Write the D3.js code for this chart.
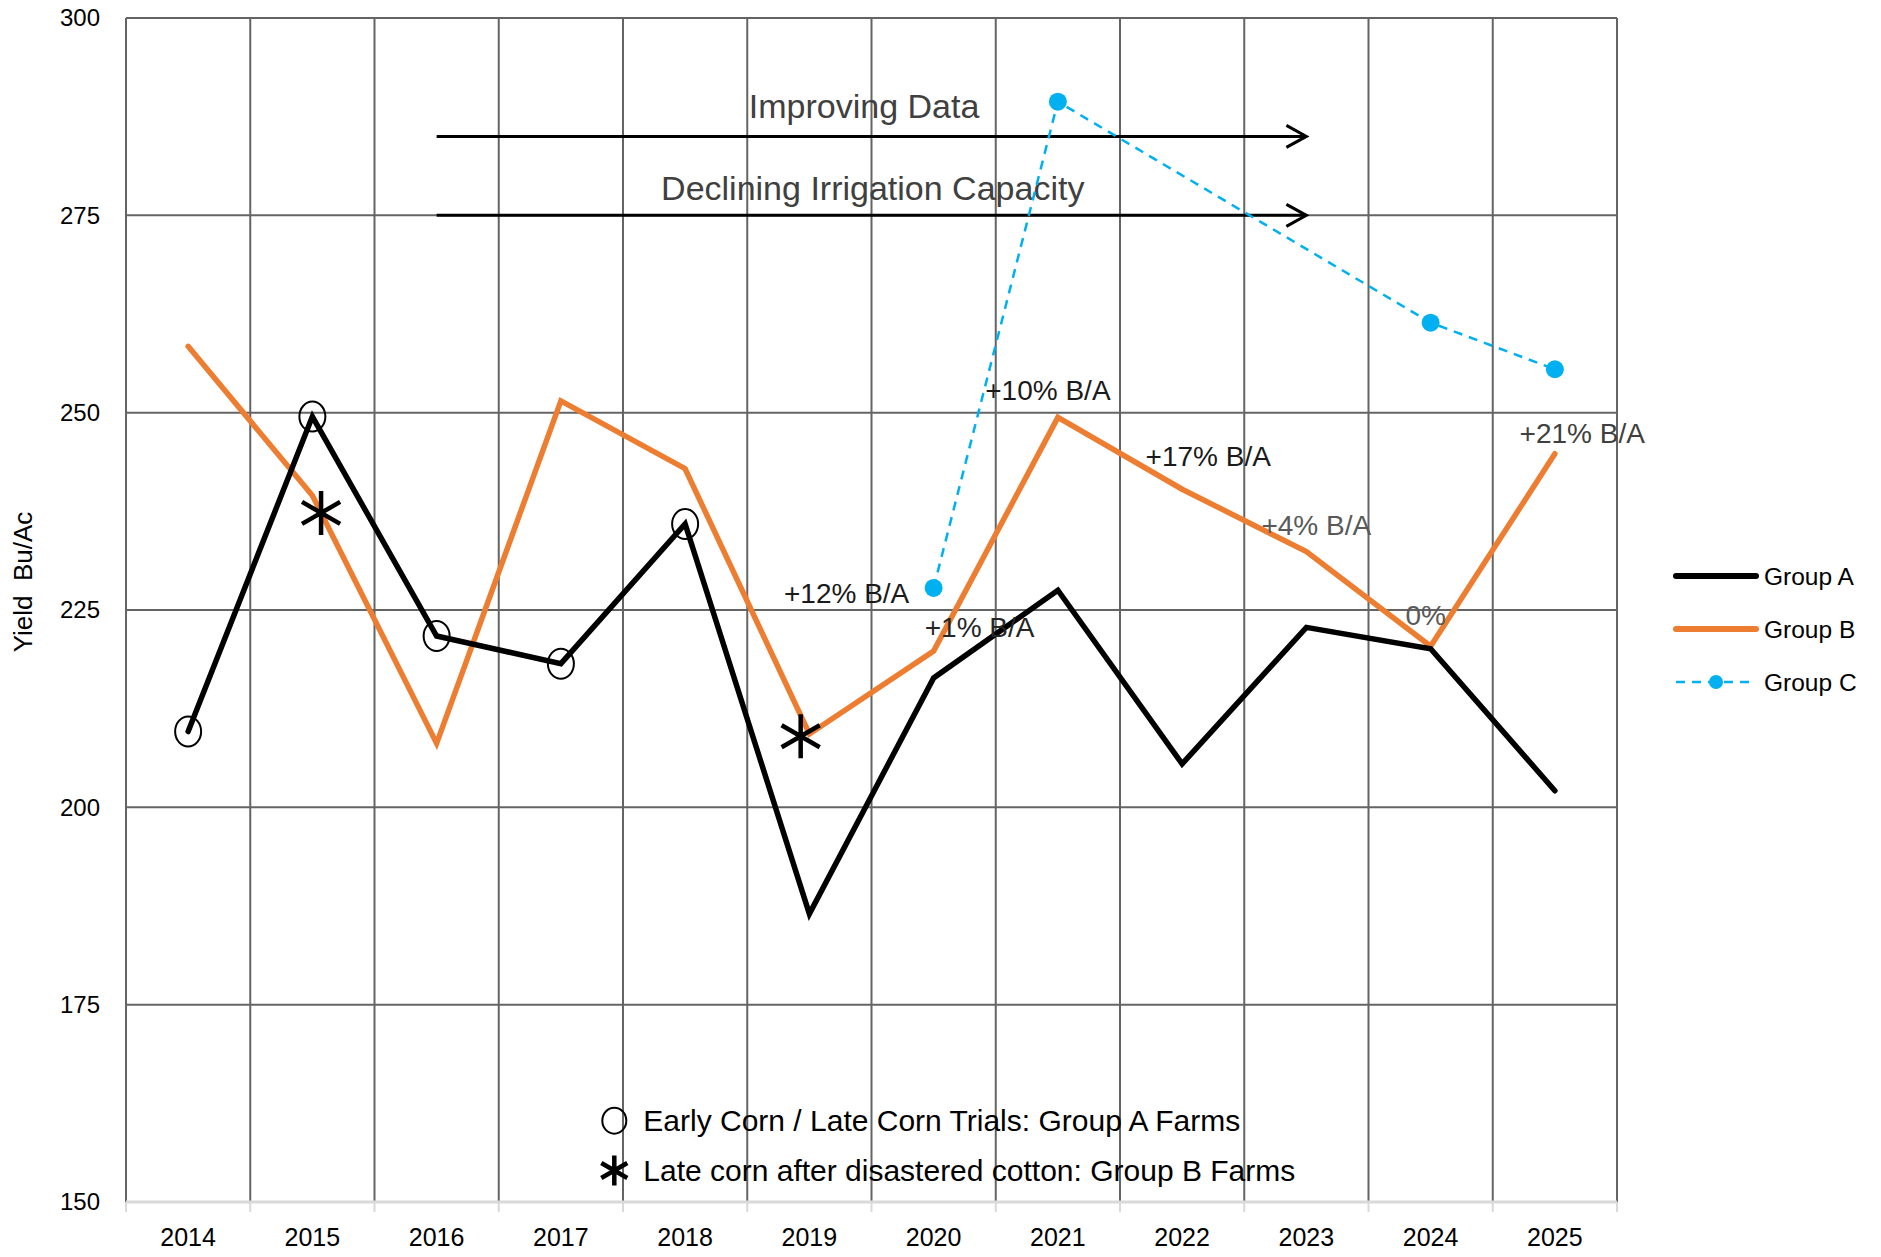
<!DOCTYPE html>
<html>
<head>
  <script src="https://d3js.org/d3.v7.min.js"></script>
  <title>Yield by Group</title>
  <style>
    body { margin: 0; background: #fff; }
    .tick-label { font-family: "Liberation Sans", Arial, sans-serif; font-size: 24px; fill: #000; }
    .note { font-family: "Liberation Sans Narrow", "Liberation Sans", sans-serif; }
    .legend-text { font-family: "Liberation Sans", Arial, sans-serif; font-size: 24px; fill: #000; }
  </style>
</head>
<body>
<div id="chart-container"></div>
<script>
var years = [2014, 2015, 2016, 2017, 2018, 2019, 2020, 2021, 2022, 2023, 2024, 2025];
var groupA = [209.6, 249.5, 221.7, 218.2, 235.9, 186.5, 216.4, 227.5, 205.5, 222.8, 220.1, 202.1];
var groupB = [258.4, 239.5, 208.1, 251.5, 242.9, 209.3, 219.8, 249.4, 240.3, 232.4, 220.4, 244.8];
var groupC = [null, null, null, null, null, null, 227.8, 289.4, null, null, 261.4, 255.5];
var yTicks = [150, 175, 200, 225, 250, 275, 300];

// circles on group A = early/late corn trials, asterisks on group B = late corn after cotton
var circleYears = [2014, 2015, 2016, 2017, 2018];
var starMarks = [{ year: 2015.07, value: 237.3 }, { year: 2018.93, value: 209.0 }];

var changeLabels = [
  { text: "+12% B/A", year: 2019.30, value: 227.1, color: "#1a1a1a" },
  { text: "+1% B/A", year: 2020.37, value: 222.8, color: "#262626" },
  { text: "+10% B/A", year: 2020.92, value: 252.9, color: "#1a1a1a" },
  { text: "+17% B/A", year: 2022.21, value: 244.5, color: "#1a1a1a" },
  { text: "+4% B/A", year: 2023.08, value: 235.7, color: "#595959" },
  { text: "0%", year: 2023.96, value: 224.3, color: "#595959" },
  { text: "+21% B/A", year: 2025.22, value: 247.4, color: "#404040" }
];
var trendArrows = [
  { text: "Improving Data", from: 2016, to: 2023, value: 285, labelYear: 2019.44, labelValue: 288.9 },
  { text: "Declining Irrigation Capacity", from: 2016, to: 2023, value: 275, labelYear: 2019.51, labelValue: 278.5 }
];
var notes = [
  { symbol: "circle", text: "Early Corn / Late Corn Trials: Group A Farms", year: 2017.43, value: 160.3 },
  { symbol: "star", text: "Late corn after disastered cotton: Group B Farms", year: 2017.43, value: 154.0 }
];
var legendItems = ["Group A", "Group B", "Group C"];

var width = 1881, height = 1257;
var margin = { top: 18, right: 264, bottom: 55, left: 126 };

var colorA = "#000000", colorB = "#ED7D31", colorC = "#00B0F0";

var svg = d3.select("#chart-container").append("svg")
  .attr("width", width).attr("height", height);

var x = d3.scaleBand().domain(years).range([margin.left, width - margin.right]);
var bw = x.bandwidth();
var xc = function(yr) { return x(yr) + bw / 2; };
var xf = d3.scaleLinear().domain([2014, 2025]).range([xc(2014), xc(2025)]);
var y = d3.scaleLinear().domain([150, 300]).range([height - margin.bottom, margin.top]);

var plotLeft = margin.left, plotRight = width - margin.right;
var plotTop = y(300), plotBottom = y(150);

// grid
var edges = years.map(function(d) { return x(d); }).concat([plotRight]);
svg.append("g").selectAll("line").data(edges).enter().append("line")
  .attr("x1", function(d) { return d; }).attr("x2", function(d) { return d; })
  .attr("y1", plotTop).attr("y2", plotBottom)
  .attr("stroke", "#646464").attr("stroke-width", 2);
svg.append("g").selectAll("line").data(yTicks.filter(function(d) { return d > 150; })).enter().append("line")
  .attr("x1", plotLeft).attr("x2", plotRight)
  .attr("y1", function(d) { return y(d); }).attr("y2", function(d) { return y(d); })
  .attr("stroke", "#646464").attr("stroke-width", 2);

// x axis
var xAxis = svg.append("g").attr("transform", "translate(0," + plotBottom + ")");
xAxis.append("line").attr("x1", plotLeft).attr("x2", plotRight)
  .attr("stroke", "#d9d9d9").attr("stroke-width", 3);
xAxis.selectAll(".tk").data(edges).enter().append("line")
  .attr("x1", function(d) { return d; }).attr("x2", function(d) { return d; })
  .attr("y1", 0).attr("y2", 10).attr("stroke", "#d9d9d9").attr("stroke-width", 2);
xAxis.selectAll("text").data(years).enter().append("text")
  .attr("class", "tick-label")
  .attr("x", function(d) { return xc(d); }).attr("y", 44)
  .attr("text-anchor", "middle").style("font-size", "25px")
  .text(function(d) { return d; });

// y axis labels
svg.append("g").selectAll("text").data(yTicks).enter().append("text")
  .attr("class", "tick-label")
  .attr("x", 100).attr("y", function(d) { return y(d); })
  .attr("dy", "0.35em").attr("text-anchor", "end")
  .text(function(d) { return d; });

svg.append("text")
  .attr("transform", "translate(32," + 582 + ") rotate(-90)")
  .attr("text-anchor", "middle")
  .style("font-family", "Liberation Sans, Arial, sans-serif").style("font-size", "26px")
  .attr("xml:space", "preserve")
  .text("Yield  Bu/Ac");

// trend arrows
var arrowG = svg.append("g");
trendArrows.forEach(function(a) {
  var x1 = xc(a.from), x2 = xc(a.to), yy = y(a.value);
  arrowG.append("line").attr("x1", x1).attr("x2", x2).attr("y1", yy).attr("y2", yy)
    .attr("stroke", "#000").attr("stroke-width", 3);
  arrowG.append("path")
    .attr("d", "M" + (x2 - 20) + "," + (yy - 11) + "L" + x2 + "," + yy + "L" + (x2 - 20) + "," + (yy + 11))
    .attr("fill", "none").attr("stroke", "#000").attr("stroke-width", 3);
  arrowG.append("text").attr("class", "note")
    .attr("x", xf(a.labelYear)).attr("y", y(a.labelValue))
    .attr("dy", "0.35em").attr("text-anchor", "middle")
    .style("font-size", "34px").style("fill", "#404040")
    .text(a.text);
});

// series lines
var lineGen = d3.line()
  .defined(function(d) { return d.v != null; })
  .x(function(d) { return xc(d.year); })
  .y(function(d) { return y(d.v); });
function rows(vals) { return years.map(function(yr, i) { return { year: yr, v: vals[i] }; }); }

var cRows = rows(groupC).filter(function(d) { return d.v != null; });
svg.append("path").datum(cRows).attr("d", lineGen)
  .attr("fill", "none").attr("stroke", colorC).attr("stroke-width", 2.5)
  .attr("stroke-dasharray", "9,7");

svg.append("path").datum(rows(groupB)).attr("d", lineGen)
  .attr("fill", "none").attr("stroke", colorB).attr("stroke-width", 5.5)
  .attr("stroke-linejoin", "miter").attr("stroke-linecap", "round");

svg.append("path").datum(rows(groupA)).attr("d", lineGen)
  .attr("fill", "none").attr("stroke", colorA).attr("stroke-width", 5.5)
  .attr("stroke-linejoin", "miter").attr("stroke-linecap", "round");

svg.append("g").selectAll("circle").data(cRows).enter().append("circle")
  .attr("cx", function(d) { return xc(d.year); }).attr("cy", function(d) { return y(d.v); })
  .attr("r", 9).attr("fill", colorC);

// circle markers on group A
svg.append("g").selectAll("ellipse").data(circleYears).enter().append("ellipse")
  .attr("cx", function(d) { return xc(d); })
  .attr("cy", function(d) { return y(groupA[years.indexOf(d)]); })
  .attr("rx", 13).attr("ry", 15)
  .attr("fill", "none").attr("stroke", "#000").attr("stroke-width", 2);

function star(g, cx, cy, s) {
  var d = "";
  [90, 30, -30].forEach(function(ang) {
    var a = ang * Math.PI / 180;
    var dx = Math.cos(a) * s, dy = Math.sin(a) * s;
    d += "M" + (cx - dx) + "," + (cy - dy) + "L" + (cx + dx) + "," + (cy + dy);
  });
  g.append("path").attr("d", d).attr("stroke", "#000").attr("stroke-width", 4.5).attr("fill", "none");
}
var starG = svg.append("g");
starMarks.forEach(function(m) { star(starG, xf(m.year), y(m.value), 22); });

// percentage change labels
svg.append("g").selectAll("text").data(changeLabels).enter().append("text")
  .attr("class", "note")
  .attr("x", function(d) { return xf(d.year); }).attr("y", function(d) { return y(d.value); })
  .attr("dy", "0.35em").attr("text-anchor", "middle")
  .style("font-size", "28px")
  .style("fill", function(d) { return d.color; })
  .text(function(d) { return d.text; });

// bottom notes
notes.forEach(function(n) {
  var nx = xf(n.year), ny = y(n.value);
  if (n.symbol === "circle") {
    svg.append("ellipse").attr("cx", nx).attr("cy", ny).attr("rx", 12).attr("ry", 13)
      .attr("fill", "none").attr("stroke", "#000").attr("stroke-width", 2);
  } else {
    star(svg, nx, ny, 15);
  }
  svg.append("text").attr("class", "note")
    .attr("x", nx + 29).attr("y", ny).attr("dy", "0.35em")
    .style("font-size", "30px").style("fill", "#000")
    .text(n.text);
});

// legend
var legendColors = [colorA, colorB, colorC];
var lg = svg.append("g").selectAll("g").data(legendItems).enter().append("g")
  .attr("transform", function(d, i) { return "translate(1676," + (576 + i * 53) + ")"; });
lg.append("line").attr("x1", 0).attr("x2", 80).attr("y1", 0).attr("y2", 0)
  .attr("stroke", function(d, i) { return legendColors[i]; })
  .attr("stroke-width", function(d, i) { return i < 2 ? 6 : 2.5; })
  .attr("stroke-linecap", function(d, i) { return i < 2 ? "round" : "butt"; })
  .attr("stroke-dasharray", function(d, i) { return i < 2 ? null : "9,7"; });
lg.filter(function(d, i) { return i === 2; }).append("circle")
  .attr("cx", 40).attr("cy", 0).attr("r", 7).attr("fill", colorC);
lg.append("text").attr("class", "legend-text")
  .attr("x", 88).attr("y", 0).attr("dy", "0.35em")
  .style("font-size", "24.5px")
  .text(function(d) { return d; });
</script>
</body>
</html>
